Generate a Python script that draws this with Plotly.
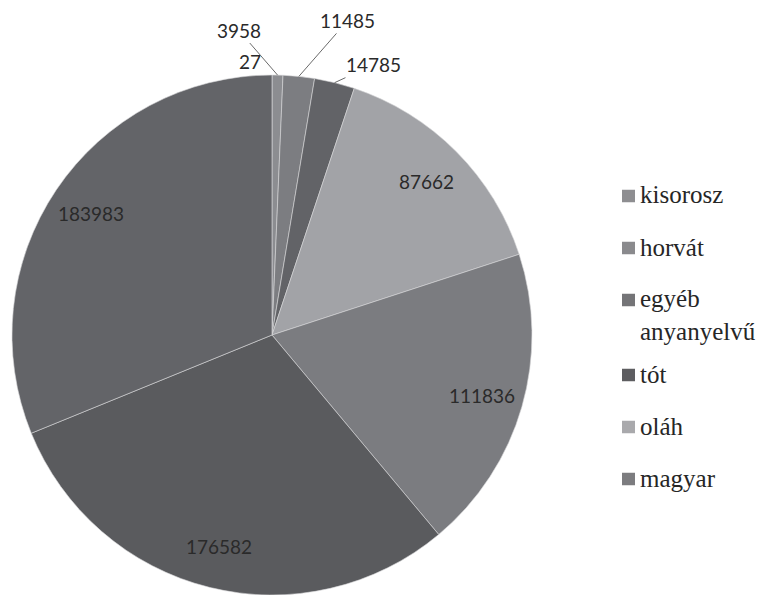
import math
import plotly.graph_objects as go

# ---- data ----
labels = ["kisorosz", "horvát", "egyéb anyanyelvű", "tót", "oláh", "magyar", "német", "szerb"]
values = [27, 3958, 11485, 14785, 87662, 111836, 176582, 183983]
legend_labels = ["kisorosz", "horvát", "egyéb<br>anyanyelvű", "tót", "oláh", "magyar"]

# ---- styles ----
colors = ["#8d8e92", "#8c8d91", "#7c7d81", "#626367", "#a2a3a7", "#7b7c80", "#5a5b5e", "#636468"]
legend_colors = ["#8e8e91", "#8a8a8d", "#747477", "#5d5d60", "#a9a9ac", "#7c7c7f"]
serif = "Liberation Serif"

W, H = 759, 595
M_T = 75
dom_x = [0.0, 0.7167]
cx = (dom_x[0] + dom_x[1]) / 2 * W
R = (H - M_T) / 2
cy = M_T + R

total = sum(values)
mids = []
cum = 0
for v in values:
    mids.append((cum + v / 2) / total * 2 * math.pi)
    cum += v


def to_paper(px, py):
    return px / W, (H - py) / (H - M_T)


fig = go.Figure()
fig.add_trace(go.Pie(
    labels=labels, values=values, sort=False, direction="clockwise", rotation=0,
    marker=dict(colors=colors, line=dict(color="#d8d8da", width=0.6)),
    textinfo="none", hoverinfo="label+value", showlegend=False,
    domain=dict(x=dom_x, y=[0, 1]),
))

label_font = dict(family="Lato", size=19, color="#2a2a2a")
annotations = []
# inside labels for the big slices
for i in range(4, 8):
    a = mids[i]
    px = cx + 0.84 * R * math.sin(a)
    py = cy - 0.84 * R * math.cos(a)
    x, y = to_paper(px, py)
    annotations.append(dict(x=x, y=y, xref="paper", yref="paper", text=str(values[i]),
                            xanchor="center", yanchor="middle",
                            showarrow=False, font=label_font))

# outside labels for the small slices (offsets in pixels)
offsets = {0: (-22, -14, False), 1: (-39, -45, True), 2: (49, -56, True), 3: (39, -18, True)}
for i, (ax, ay, arrow) in offsets.items():
    a = mids[i]
    px = cx + R * math.sin(a)
    py = cy - R * math.cos(a)
    x, y = to_paper(px, py)
    annotations.append(dict(x=x, y=y, xref="paper", yref="paper", text=str(values[i]),
                            showarrow=True, ax=ax, ay=ay, arrowhead=0, arrowwidth=1,
                            arrowcolor="#6a6a6a" if arrow else "rgba(0,0,0,0)",
                            standoff=0, font=label_font))

# ---- hand-built legend (squares + serif text) ----
shapes = []
row_y = 196
sq = 12.5
for lab, c in zip(legend_labels, legend_colors):
    n_lines = lab.count("<br>") + 1
    x0, y0 = to_paper(622, row_y - sq / 2)
    x1, y1 = to_paper(635, row_y + sq / 2)
    shapes.append(dict(type="rect", xref="paper", yref="paper", x0=x0, x1=x1, y0=y1, y1=y0,
                       fillcolor=c, line=dict(width=0)))
    tx, ty = to_paper(638, row_y - 1 + (n_lines - 1) * 15.5)
    annotations.append(dict(x=tx, y=ty, xref="paper", yref="paper", text=lab, align="left",
                            xanchor="left", yanchor="middle", showarrow=False,
                            font=dict(family=serif, size=25, color="#262626")))
    row_y += 52 + (n_lines - 1) * 23

fig.update_layout(
    width=W, height=H,
    margin=dict(l=0, r=0, t=M_T, b=0),
    paper_bgcolor="white", plot_bgcolor="white",
    xaxis=dict(visible=False), yaxis=dict(visible=False),
    annotations=annotations, shapes=shapes, showlegend=False,
)

fig.write_html("out.html")
